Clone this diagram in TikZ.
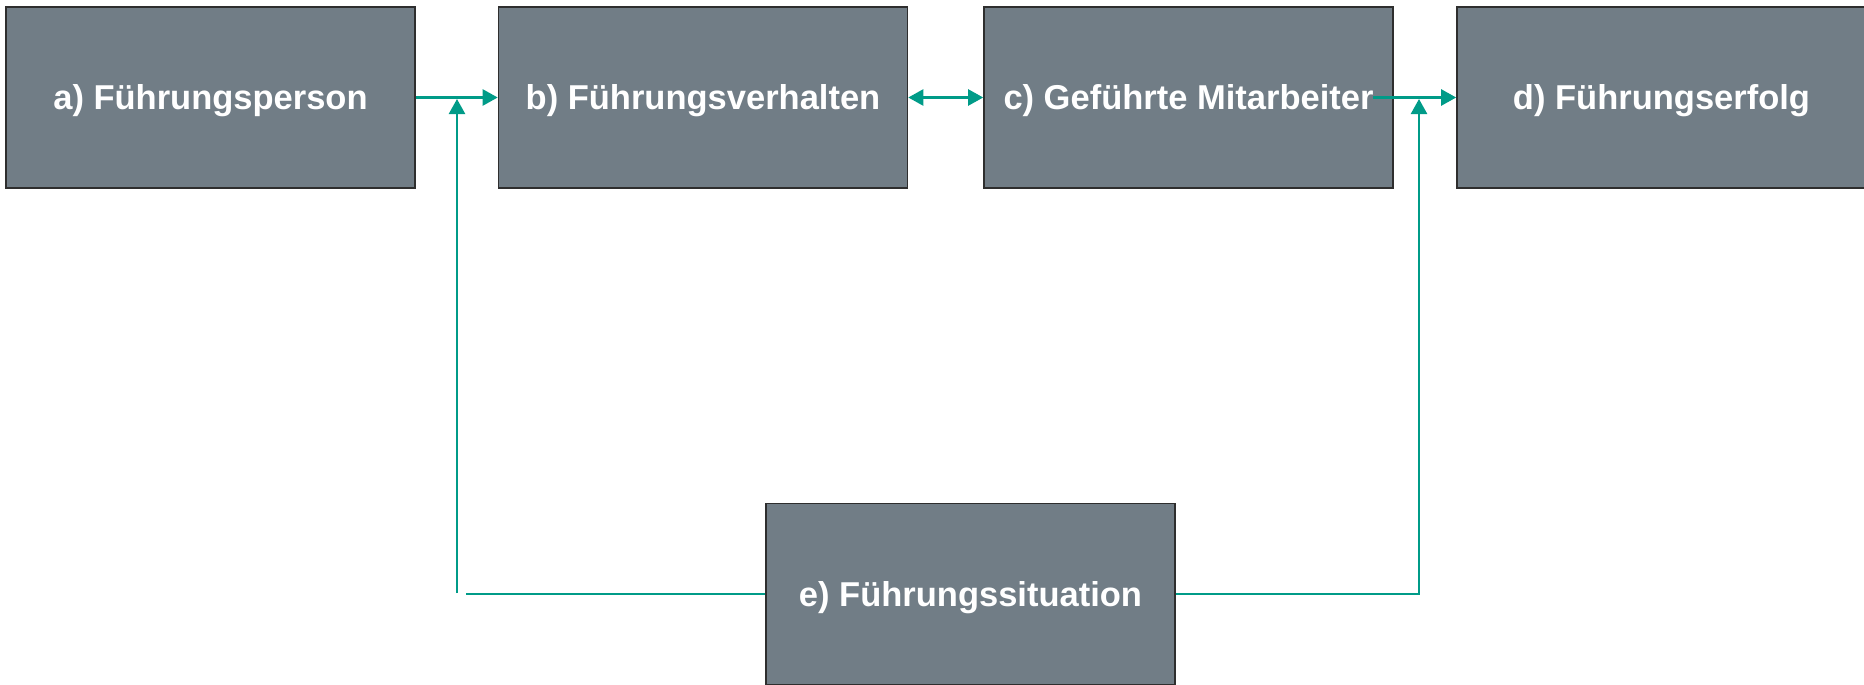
\documentclass[tikz,border=0pt]{standalone}
\usepackage{fontspec}
\setmainfont{Liberation Sans}
\usetikzlibrary{arrows.meta}
\definecolor{boxgray}{HTML}{717D86}
\definecolor{boxedge}{HTML}{2E2E2E}
\definecolor{teal}{HTML}{009B88}
\tikzset{
  stage/.style={draw=boxedge, line width=1.6pt, fill=boxgray,
    minimum width=409pt, minimum height=181pt, inner sep=0pt,
    text height=25pt, text depth=0pt,
    text=white, font=\bfseries\fontsize{34.5}{40}\selectfont},
  link/.style={draw=teal, line width=2.4pt},
  arr/.style={link, -{Triangle[length=15pt,width=16pt]}},
  darr/.style={link, {Triangle[length=15pt,width=16pt]}-{Triangle[length=15pt,width=16pt]}}
}
\begin{document}
\begin{tikzpicture}[x=1pt,y=-1pt]
\useasboundingbox (0,0) rectangle (1864,685);
\clip (0,0) rectangle (1864,685);
% the five elements of the leadership model
\node[stage] (a) at (210.5,97.5) {a) Führungsperson};
\node[stage] (b) at (703,97.5) {b) Führungsverhalten};
\node[stage] (c) at (1188.5,97.5) {c) Geführte Mitarbeiter};
\node[stage] (d) at (1661.5,97.5) {d) Führungserfolg};
\node[stage] (e) at (970.5,594) {e) Führungssituation};
% junction points of the situation lines
\coordinate (lb) at (457,593);
\coordinate (lt) at (457,99);
\coordinate (lh) at (466,594);
\coordinate (cs) at (1373,97.5);
\coordinate (rb) at (1419,594);
\coordinate (rt) at (1419,99);
% connectors
\draw[arr] (a.east) -- (b.west);
\draw[darr] (b.east) -- (c.west);
\draw[arr] (cs) -- (d.west);
\draw[arr] (lb) -- (lt);
\draw[link] (e.west) -- (lh);
\draw[arr] (e.east) -- (rb) -- (rt);
\end{tikzpicture}
\end{document}
